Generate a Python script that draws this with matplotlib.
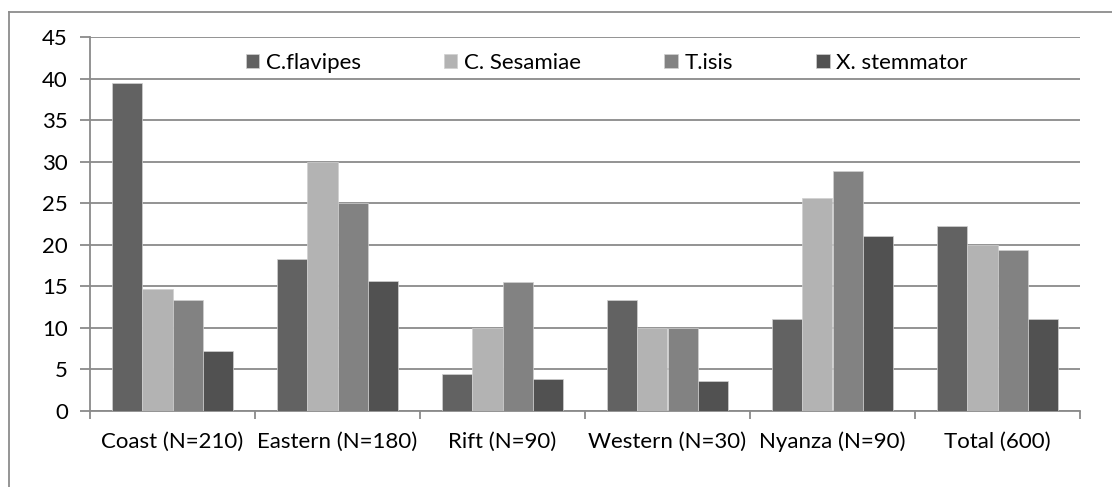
import numpy as np
import matplotlib
matplotlib.use('Agg')
import matplotlib.pyplot as plt
from matplotlib.lines import Line2D

regions = ['Coast (N=210)', 'Eastern (N=180)', 'Rift (N=90)',
           'Western (N=30)', 'Nyanza (N=90)', 'Total (600)']
species = ['C.flavipes', 'C. Sesamiae', 'T.isis', 'X. stemmator']
flavipes = [39.5, 18.3, 4.4, 13.3, 11.1, 22.3]
sesamiae = [14.7, 30.0, 10.0, 10.0, 25.6, 20.0]
tisis = [13.3, 25.0, 15.5, 10.0, 28.9, 19.4]
stemmator = [7.2, 15.6, 3.8, 3.6, 21.0, 11.1]
colors = ['#626262', '#b3b3b3', '#828282', '#515151']

plt.rcParams['font.family'] = ['Lato', 'DejaVu Sans']
FS = 16

fig = plt.figure(figsize=(11.12, 4.87), dpi=100)
W, H = 1112, 487
ax = fig.add_axes([90 / W, 1 - 411 / H, (1080 - 90) / W, (411 - 37) / H])

# chart frame (top and left edges)
fc = '#8c8c8c'
fig.add_artist(Line2D([9 / W, 1.0], [1 - 12 / H] * 2, transform=fig.transFigure,
                      color=fc, linewidth=1.3))
fig.add_artist(Line2D([9 / W] * 2, [0.0, 1 - 12 / H], transform=fig.transFigure,
                      color=fc, linewidth=1.3))

x = np.arange(len(regions))
w = 0.182
series = [flavipes, sesamiae, tisis, stemmator]
for i, (vals, name) in enumerate(zip(series, species)):
    ax.bar(x + (i - 1.5) * w, vals, width=w, color=colors[i], label=name,
           edgecolor='#d0d0d0', linewidth=0.5, zorder=3)

ax.set_xlim(-0.5, len(regions) - 0.5)
ax.set_ylim(0, 45)
ax.set_yticks(np.arange(0, 46, 5))
ax.yaxis.grid(True, color='#8a8a8a', linewidth=1.3, zorder=0)
ax.set_xticks(x)
ax.set_xticklabels(regions, fontsize=FS)
ax.set_xticks(np.arange(-0.5, len(regions), 1), minor=True)
ax.tick_params(axis='x', which='major', length=0, pad=15)
ax.tick_params(axis='x', which='minor', length=6, width=1.3, color='#8a8a8a')
ax.tick_params(axis='y', length=7, width=1.3, color='#8a8a8a', labelsize=FS, pad=9)

for s in ['top', 'right']:
    ax.spines[s].set_visible(False)
for s in ['left', 'bottom']:
    ax.spines[s].set_color('#8a8a8a')
    ax.spines[s].set_linewidth(1.3)

leg = ax.legend(loc='center', bbox_to_anchor=(0.522, 0.930), ncol=4, frameon=False,
                fontsize=FS, handlelength=0.6, handleheight=0.6,
                handletextpad=0.3, columnspacing=3.75)

fig.savefig('out.png', dpi=100)
